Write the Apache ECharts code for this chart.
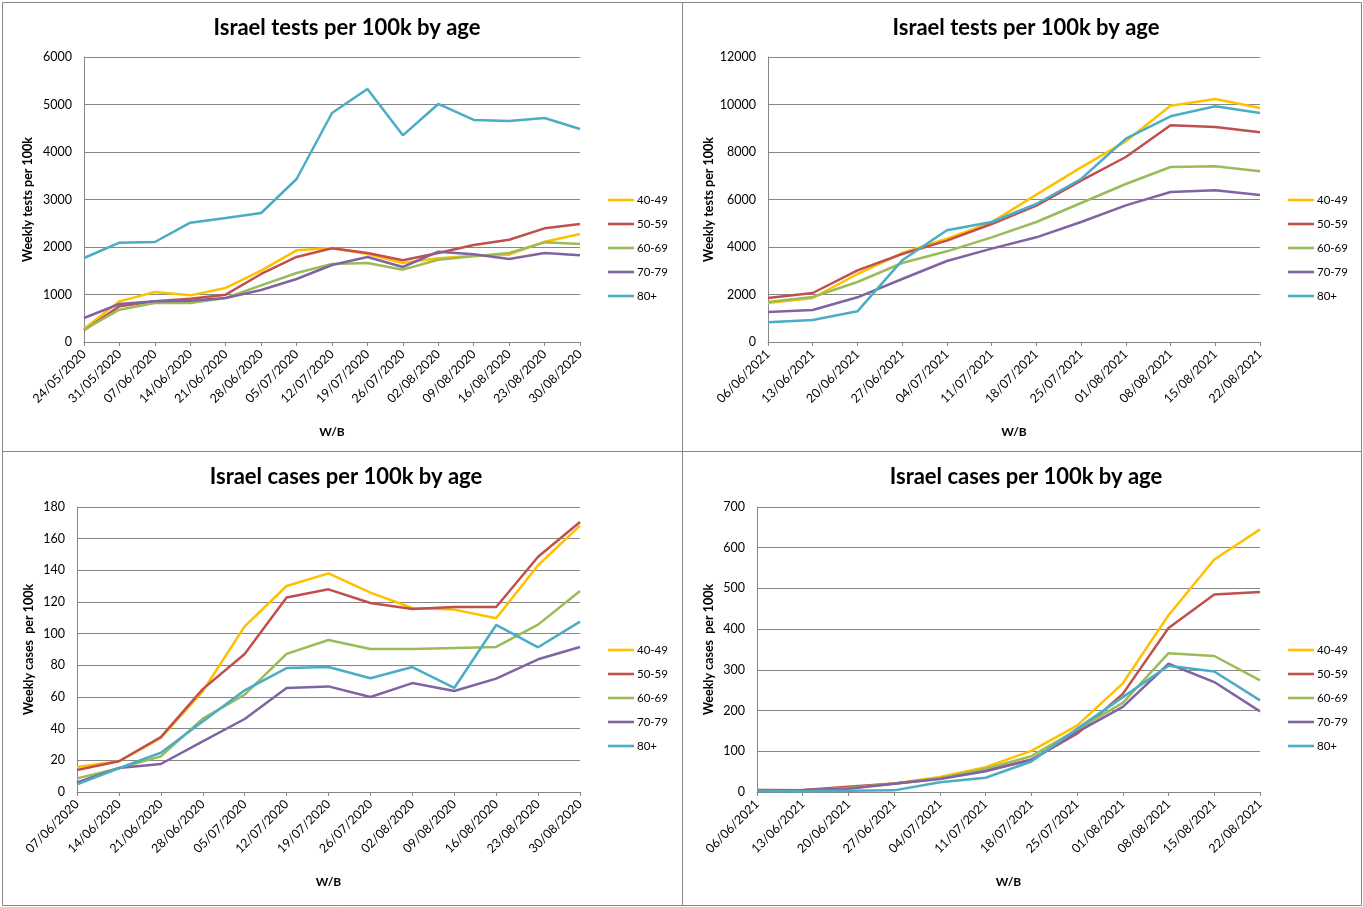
<!DOCTYPE html>
<html><head><meta charset="utf-8">
<script src="https://cdn.jsdelivr.net/npm/echarts@6/dist/echarts.min.js"></script>
<style>html,body{margin:0;padding:0;background:#fff}#c{width:1363px;height:907px}</style>
</head><body><div id="c"></div>
<script>
const seriesNames = ['40-49','50-59','60-69','70-79','80+'];
const colors = ['#FFC000','#C0504D','#9BBB59','#8064A2','#4BACC6'];

const testsDates2020 = ['24/05/2020','31/05/2020','07/06/2020','14/06/2020','21/06/2020','28/06/2020','05/07/2020','12/07/2020','19/07/2020','26/07/2020','02/08/2020','09/08/2020','16/08/2020','23/08/2020','30/08/2020'];
const tests2020_40 = [274,856,1053,982,1137,1502,1930,1979,1853,1663,1761,1818,1839,2112,2274];
const tests2020_50 = [246,751,856,912,997,1432,1790,1972,1874,1719,1874,2042,2154,2393,2484];
const tests2020_60 = [260,681,821,821,926,1193,1453,1642,1663,1523,1733,1804,1874,2098,2063];
const tests2020_70 = [505,800,856,870,926,1095,1326,1621,1790,1579,1902,1846,1747,1874,1825];
const tests2020_80 = [1768,2091,2105,2512,2611,2716,3432,4821,5326,4351,5011,4674,4653,4716,4484];

const dates2021 = ['06/06/2021','13/06/2021','20/06/2021','27/06/2021','04/07/2021','11/07/2021','18/07/2021','25/07/2021','01/08/2021','08/08/2021','15/08/2021','22/08/2021'];
const tests2021_40 = [1642,1853,2863,3747,4351,5039,6203,7354,8449,9951,10232,9853];
const tests2021_50 = [1853,2063,3018,3705,4267,4968,5740,6793,7789,9123,9053,8828];
const tests2021_60 = [1684,1895,2526,3326,3818,4407,5053,5853,6653,7368,7396,7186];
const tests2021_70 = [1263,1347,1881,2653,3411,3930,4407,5053,5754,6316,6386,6189];
const tests2021_80 = [828,926,1291,3439,4702,5053,5810,6863,8561,9502,9923,9642];

const casesDates2020 = ['07/06/2020','14/06/2020','21/06/2020','28/06/2020','05/07/2020','12/07/2020','19/07/2020','26/07/2020','02/08/2020','09/08/2020','16/08/2020','23/08/2020','30/08/2020'];
const cases2020_40 = [15.8,19.4,34.1,63.6,104.6,130.1,138.1,125.9,116.2,115.2,109.7,143.2,168.2];
const cases2020_50 = [13.9,19.4,34.7,65,87.2,122.9,128,119.4,115.6,116.8,116.8,148.6,170.5];
const cases2020_60 = [8.6,15,22.5,46.3,61.5,87.2,96,90.3,90.3,91,91.6,105.7,127];
const cases2020_70 = [6.1,15.2,17.7,32,46.1,65.7,66.7,60,68.8,63.8,71.6,83.8,91.6];
const cases2020_80 = [4.8,15,24.8,44.6,64.2,78.3,78.9,71.8,78.9,65.7,105.5,91.4,107.6];

const cases2021_40 = [5,4,10,21,37,61,101,163,267,434,571,645];
const cases2021_50 = [4,5,13,21,33,53,79,143,241,403,485,491];
const cases2021_60 = [3,3,10,20,34,57,88,153,219,341,334,274];
const cases2021_70 = [5,4,8,20,32,51,79,147,209,315,270,198];
const cases2021_80 = [3,2,3,4,24,35,75,155,233,310,296,225];

const yTitleTests = 'Weekly tests per 100k';
const yTitleCases = 'Weekly cases  per 100k';
const xTitle = 'W/B';
const titleTests = 'Israel tests per 100k by age';
const titleCases = 'Israel cases per 100k by age';

const FONT = 'Lato, "Liberation Sans", sans-serif';
const panels = [
  {cats: testsDates2020, data:[tests2020_40,tests2020_50,tests2020_60,tests2020_70,tests2020_80], max:6000, interval:1000, yname:yTitleTests, title:titleTests,
   grid:{left:84,top:57,width:496,height:285}, box:[2,2,680,449], legendX:608, legendY:193, titleX:342, titleY:12, yGap:50},
  {cats: dates2021, data:[tests2021_40,tests2021_50,tests2021_60,tests2021_70,tests2021_80], max:12000, interval:2000, yname:yTitleTests, title:titleTests,
   grid:{left:768,top:57,width:492,height:285}, box:[682,2,679,449], legendX:1288, legendY:193, titleX:1021, titleY:12, yGap:53},
  {cats: casesDates2020, data:[cases2020_40,cases2020_50,cases2020_60,cases2020_70,cases2020_80], max:180, interval:20, yname:yTitleCases, title:titleCases,
   grid:{left:77,top:507,width:503,height:285}, box:[2,451,680,454], legendX:608, legendY:643, titleX:341, titleY:461, yGap:42},
  {cats: dates2021, data:[cases2021_40,cases2021_50,cases2021_60,cases2021_70,cases2021_80], max:700, interval:100, yname:yTitleCases, title:titleCases,
   grid:{left:757,top:507,width:503,height:285}, box:[682,451,679,454], legendX:1288, legendY:643, titleX:1021, titleY:461, yGap:42}
];

const option = {
  backgroundColor:'#fff',
  animation:false,
  title: panels.map(p=>({text:p.title, left:p.titleX, top:p.titleY, textAlign:'center',
     textStyle:{fontFamily:FONT, fontWeight:'bold', fontSize:22, color:'#000'}})),
  legend: panels.map(p=>({data:seriesNames.map(n=>({name:n, icon:'path://M0,0L30,0L30,3L0,3Z'})), orient:'vertical', left:p.legendX, top:p.legendY,
     padding:0, itemWidth:26, itemHeight:3, itemGap:10,
     textStyle:{fontFamily:FONT, fontSize:11.5, color:'#000', lineHeight:14, padding:[0,0,0,-2]}})),
  grid: panels.map(p=>Object.assign({containLabel:false}, p.grid)),
  xAxis: panels.map((p,i)=>({type:'category', gridIndex:i, data:p.cats, boundaryGap:false,
     name:xTitle, nameLocation:'middle', nameGap:84,
     nameTextStyle:{fontFamily:FONT, fontWeight:'bold', fontSize:12, color:'#000'},
     axisLine:{lineStyle:{color:'#868686', width:1}},
     axisTick:{show:true, length:4, alignWithLabel:true, lineStyle:{color:'#868686'}},
     axisLabel:{rotate:45, fontFamily:FONT, fontSize:12.5, color:'#000', margin:10, interval:0},
     splitLine:{show:false}})),
  yAxis: panels.map((p,i)=>({type:'value', gridIndex:i, min:0, max:p.max, interval:p.interval,
     name:p.yname, nameLocation:'middle', nameGap:p.yGap, nameRotate:90,
     nameTextStyle:{fontFamily:FONT, fontWeight:'bold', fontSize:12.5, color:'#000'},
     axisLine:{show:true, lineStyle:{color:'#868686', width:1}},
     axisTick:{show:false},
     axisLabel:{fontFamily:FONT, fontSize:12.5, color:'#000', margin:12, formatter:v=>String(v)},
     splitLine:{show:true, lineStyle:{color:'#868686', width:1}}})),
  series: [],
  graphic: panels.map(p=>({type:'rect', shape:{x:p.box[0]+0.5, y:p.box[1]+0.5, width:p.box[2], height:p.box[3]},
     style:{fill:'none', stroke:'#868686', lineWidth:1}, silent:true, z:-1}))
};
panels.forEach((p,i)=>{
  p.data.forEach((d,k)=>{
    option.series.push({type:'line', name:seriesNames[k], xAxisIndex:i, yAxisIndex:i, data:d,
      showSymbol:false, symbol:'none', color:colors[k], lineStyle:{width:2.5, color:colors[k]}});
  });
});
const chart = echarts.init(document.getElementById('c'), null, {renderer:'canvas'});
chart.setOption(option);
</script></body></html>
